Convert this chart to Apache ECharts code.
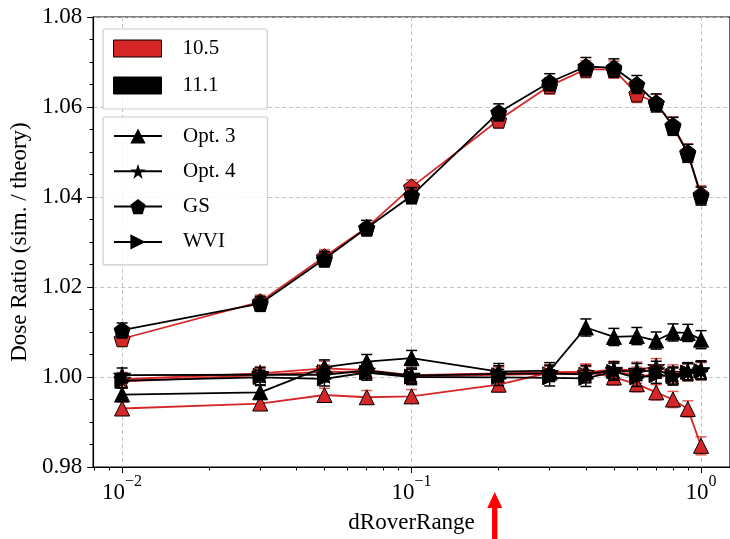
<!DOCTYPE html>
<html>
<head>
<meta charset="utf-8">
<script src="https://cdn.jsdelivr.net/npm/echarts@6/dist/echarts.min.js"></script>
<style>
html,body{margin:0;padding:0;background:#fff;}
#chart{width:730px;height:539px;}
</style>
</head>
<body>
<div id="chart"></div>
<script>
// ---------------- data ----------------
const xValues = [0.01, 0.03, 0.05, 0.07, 0.1, 0.2, 0.3, 0.4, 0.5, 0.6, 0.7, 0.8, 0.9, 1.0];

const opt3_105 = [0.9930, 0.9941, 0.9960, 0.9955, 0.9957, 0.9983, 1.0010, 1.0012, 0.9999, 0.9984, 0.9966, 0.9950, 0.9929, 0.9847];
const opt4_105 = [0.9995, 1.0008, 1.0019, 1.0015, 1.0004, 1.0008, 1.0010, 1.0010, 1.0017, 1.0015, 1.0023, 1.0008, 1.0012, 1.0015];
const gs_105   = [1.0085, 1.0167, 1.0267, 1.0332, 1.0422, 1.0571, 1.0647, 1.0684, 1.0683, 1.0629, 1.0609, 1.0559, 1.0499, 1.0405];
const wvi_105  = [0.9990, 1.0004, 1.0012, 1.0010, 1.0002, 1.0005, 1.0007, 1.0006, 1.0012, 1.0004, 1.0003, 1.0004, 1.0010, 1.0013];

const opt3_111 = [0.9961, 0.9966, 1.0022, 1.0034, 1.0042, 1.0012, 1.0014, 1.0110, 1.0089, 1.0091, 1.0081, 1.0099, 1.0098, 1.0083];
const opt4_111 = [1.0004, 1.0005, 1.0005, 1.0014, 1.0003, 1.0007, 1.0008, 1.0006, 1.0015, 1.0011, 1.0016, 1.0003, 1.0013, 1.0016];
const gs_111   = [1.0104, 1.0163, 1.0262, 1.0331, 1.0403, 1.0588, 1.0655, 1.0690, 1.0687, 1.0650, 1.0609, 1.0557, 1.0497, 1.0402];
const wvi_111  = [0.9992, 0.9999, 0.9996, 1.0010, 1.0000, 0.9999, 0.9998, 0.9997, 1.0012, 0.9998, 1.0005, 1.0001, 1.0011, 1.0014];

const err_opt3_105 = [0.0015, 0.0014, 0.0015, 0.0015, 0.0015, 0.0016, 0.0016, 0.0017, 0.0017, 0.0017, 0.0017, 0.0018, 0.0018, 0.0020];
const err_opt4_105 = [0.0015, 0.0015, 0.0016, 0.0016, 0.0016, 0.0017, 0.0017, 0.0018, 0.0018, 0.0018, 0.0018, 0.0019, 0.0019, 0.0019];
const err_gs_105   = [0.0015, 0.0015, 0.0016, 0.0016, 0.0016, 0.0018, 0.0018, 0.0019, 0.0019, 0.0019, 0.0019, 0.0019, 0.0019, 0.0020];
const err_wvi_105  = [0.0015, 0.0015, 0.0015, 0.0016, 0.0016, 0.0017, 0.0017, 0.0017, 0.0018, 0.0018, 0.0018, 0.0018, 0.0019, 0.0019];
const err_opt3_111 = [0.0015, 0.0015, 0.0016, 0.0016, 0.0017, 0.0018, 0.0018, 0.0019, 0.0019, 0.0019, 0.0019, 0.0019, 0.0019, 0.0020];
const err_opt4_111 = [0.0016, 0.0016, 0.0016, 0.0017, 0.0017, 0.0018, 0.0018, 0.0019, 0.0019, 0.0019, 0.0019, 0.0019, 0.0019, 0.0020];
const err_gs_111   = [0.0016, 0.0016, 0.0017, 0.0017, 0.0018, 0.0019, 0.0019, 0.0020, 0.0020, 0.0020, 0.0020, 0.0020, 0.0020, 0.0020];
const err_wvi_111  = [0.0016, 0.0016, 0.0016, 0.0017, 0.0017, 0.0018, 0.0018, 0.0018, 0.0019, 0.0019, 0.0019, 0.0019, 0.0019, 0.0020];

const versionNames = ['10.5', '11.1'];
const optionNames = ['Opt. 3', 'Opt. 4', 'GS', 'WVI'];
const xMajorTicks = [0.01, 0.1, 1];
const xMinorTicks = [0.008, 0.009, 0.02, 0.03, 0.04, 0.05, 0.06, 0.07, 0.08, 0.09, 0.2, 0.3, 0.4, 0.5, 0.6, 0.7, 0.8, 0.9];
const yMin = 0.98, yMax = 1.08, yStep = 0.02;
const xAxisTitle = 'dRoverRange';
const yAxisTitle = 'Dose Ratio (sim. / theory)';

// ---------------- styles ----------------
const RED = '#d62728';
const BLACK = '#000000';
const FONT = '"Liberation Serif", "Times New Roman", serif';
const SYM = {
  'Opt. 3': 'triangle',
  'Opt. 4': 'path://M0,-100 L22.45,-30.9 L95.1,-30.9 L36.33,11.8 L58.8,80.9 L0,38.2 L-58.8,80.9 L-36.33,11.8 L-95.1,-30.9 L-22.45,-30.9 Z',
  'GS': 'path://M0,-100 L95.1,-30.9 L58.8,80.9 L-58.8,80.9 L-95.1,-30.9 Z',
  'WVI': 'path://M0,0 L100,50 L0,100 Z'
};
const SYMSIZE = {'Opt. 3': 15, 'Opt. 4': 17, 'GS': 16, 'WVI': 14};

const groups = [
  {ver: '10.5', color: RED, z: 2, sets: [
    ['Opt. 3', opt3_105, err_opt3_105], ['Opt. 4', opt4_105, err_opt4_105],
    ['GS', gs_105, err_gs_105], ['WVI', wvi_105, err_wvi_105]]},
  {ver: '11.1', color: BLACK, z: 6, sets: [
    ['Opt. 3', opt3_111, err_opt3_111], ['Opt. 4', opt4_111, err_opt4_111],
    ['GS', gs_111, err_gs_111], ['WVI', wvi_111, err_wvi_111]]}
];

const series = [];
groups.forEach(g => {
  g.sets.forEach(([opt, ys, es]) => {
    series.push({
      type: 'custom',
      name: g.ver + ' ' + opt + ' err',
      xAxisIndex: 0, yAxisIndex: 0,
      z: g.z,
      silent: true,
      data: xValues.map((x, i) => [x, ys[i], es[i]]),
      encode: {x: 0, y: 1},
      renderItem: function (params, api) {
        const x = api.value(0), y = api.value(1), e = api.value(2);
        const top = api.coord([x, y + e]);
        const bot = api.coord([x, y - e]);
        const cw = 5.5;
        const st = {stroke: g.color, lineWidth: 1.5, opacity: g.color === RED ? 0.75 : 1};
        return {type: 'group', children: [
          {type: 'line', shape: {x1: top[0], y1: top[1], x2: bot[0], y2: bot[1]}, style: st},
          {type: 'line', shape: {x1: top[0] - cw, y1: top[1], x2: top[0] + cw, y2: top[1]}, style: st},
          {type: 'line', shape: {x1: bot[0] - cw, y1: bot[1], x2: bot[0] + cw, y2: bot[1]}, style: st}
        ]};
      }
    });
    series.push({
      type: 'line',
      name: g.ver + ' ' + opt,
      xAxisIndex: 0, yAxisIndex: 0,
      z: g.z + 1,
      data: xValues.map((x, i) => [x, ys[i]]),
      symbol: SYM[opt],
      symbolSize: SYMSIZE[opt],
      showAllSymbol: true,
      itemStyle: {color: g.color, borderColor: '#000', borderWidth: 1},
      lineStyle: {color: g.color, width: 1.8},
      emphasis: {disabled: true}
    });
  });
});

// legend helper series (no data)
versionNames.forEach((v, i) => {
  series.push({type: 'line', name: v, data: [], xAxisIndex: 0, yAxisIndex: 0,
    itemStyle: {color: i === 0 ? RED : BLACK}, lineStyle: {color: i === 0 ? RED : BLACK}});
});
optionNames.forEach(o => {
  series.push({type: 'line', name: o, data: [], xAxisIndex: 0, yAxisIndex: 0,
    symbol: SYM[o], symbolSize: SYMSIZE[o],
    itemStyle: {color: BLACK}, lineStyle: {color: BLACK, width: 1.8}});
});

function supLabel(v) {
  const e = Math.round(Math.log10(v));
  return '{b|10}{s|' + (e < 0 ? '\u2212' : '') + Math.abs(e) + '}';
}

const chart = echarts.init(document.getElementById('chart'), null, {renderer: 'canvas'});
const option = {
  animation: false,
  backgroundColor: '#ffffff',
  textStyle: {fontFamily: FONT},
  grid: {left: 91, top: 17, width: 642, height: 452, show: true, borderColor: '#000', borderWidth: 1.2, backgroundColor: 'transparent'},
  xAxis: [{
    type: 'log', logBase: 10, gridIndex: 0,
    min: Math.pow(10, -2.1), max: Math.pow(10, 0.1),
    position: 'bottom',
    name: xAxisTitle, nameLocation: 'middle', nameGap: 44,
    nameTextStyle: {fontFamily: FONT, fontSize: 23, color: '#000'},
    axisLine: {show: true, lineStyle: {color: '#000', width: 1.2}},
    axisTick: {show: true, customValues: xMajorTicks, length: 6, inside: false, lineStyle: {color: '#000', width: 1}},
    axisLabel: {
      customValues: xMajorTicks, margin: 7, color: '#000',
      formatter: supLabel,
      rich: {
        b: {fontFamily: FONT, fontSize: 23, lineHeight: 38, color: '#000'},
        s: {fontFamily: FONT, fontSize: 16, lineHeight: 16, verticalAlign: 'top', color: '#000'}
      }
    },
    splitLine: {show: true, lineStyle: {color: '#c4c4c4', type: [4, 3], width: 1}},
    minorTick: {show: false}
  }, {
    type: 'log', logBase: 10, gridIndex: 0,
    min: Math.pow(10, -2.1), max: Math.pow(10, 0.1),
    position: 'bottom',
    axisLine: {show: false},
    axisTick: {show: true, customValues: xMinorTicks, length: 3.5, lineStyle: {color: '#000', width: 1}},
    axisLabel: {show: false},
    splitLine: {show: false}
  }],
  yAxis: [{
    type: 'value', gridIndex: 0,
    min: yMin, max: yMax, interval: yStep,
    name: yAxisTitle, nameLocation: 'middle', nameGap: 56, nameRotate: 90,
    nameTextStyle: {fontFamily: FONT, fontSize: 23, color: '#000'},
    axisLine: {show: true, lineStyle: {color: '#000', width: 1.2}},
    axisTick: {show: true, length: 6, lineStyle: {color: '#000', width: 1}},
    minorTick: {show: true, splitNumber: 4, length: 3.5, lineStyle: {color: '#000', width: 1}},
    axisLabel: {fontFamily: FONT, fontSize: 23, color: '#000', margin: 11, formatter: v => v.toFixed(2)},
    splitLine: {show: true, lineStyle: {color: '#c4c4c4', type: [4, 3], width: 1}}
  }],
  legend: [{
    left: 103, top: 29, orient: 'vertical',
    selectedMode: false,
    data: [
      {name: versionNames[0], icon: 'rect', itemStyle: {color: RED, borderColor: '#000', borderWidth: 1}},
      {name: versionNames[1], icon: 'rect', itemStyle: {color: BLACK, borderColor: '#000', borderWidth: 1}}
    ],
    itemWidth: 48, itemHeight: 17, itemGap: 16,
    padding: [9, 48, 13, 10],
    backgroundColor: 'rgba(255,255,255,0.85)', borderColor: '#cccccc', borderWidth: 1.2, borderRadius: 2,
    textStyle: {fontFamily: FONT, fontSize: 21, color: '#000', lineHeight: 17, padding: [0, 0, 0, 16]}
  }, {
    left: 103, top: 117, orient: 'vertical',
    selectedMode: false,
    data: optionNames,
    itemWidth: 48, itemHeight: 19, itemGap: 14.3,
    padding: [8.5, 32, 12.5, 10],
    backgroundColor: 'rgba(255,255,255,0.85)', borderColor: '#cccccc', borderWidth: 1.2, borderRadius: 2,
    textStyle: {fontFamily: FONT, fontSize: 21, color: '#000', lineHeight: 19, padding: [0, 0, 0, 16]}
  }],
  series: series
};
chart.setOption(option);

// red arrow annotation under the axis, pointing at dRoverRange = 0.2
const arrowTarget = 0.2;
const ax = chart.convertToPixel({xAxisIndex: 0}, arrowTarget) - 4;
chart.setOption({
  graphic: [{
    type: 'polygon', silent: true, z: 100,
    shape: {points: [[ax, 492], [ax + 7.5, 508], [ax + 2.7, 508], [ax + 2.7, 539], [ax - 2.7, 539], [ax - 2.7, 508], [ax - 7.5, 508]]},
    style: {fill: '#ff0000'}
  }]
});
</script>
</body>
</html>
